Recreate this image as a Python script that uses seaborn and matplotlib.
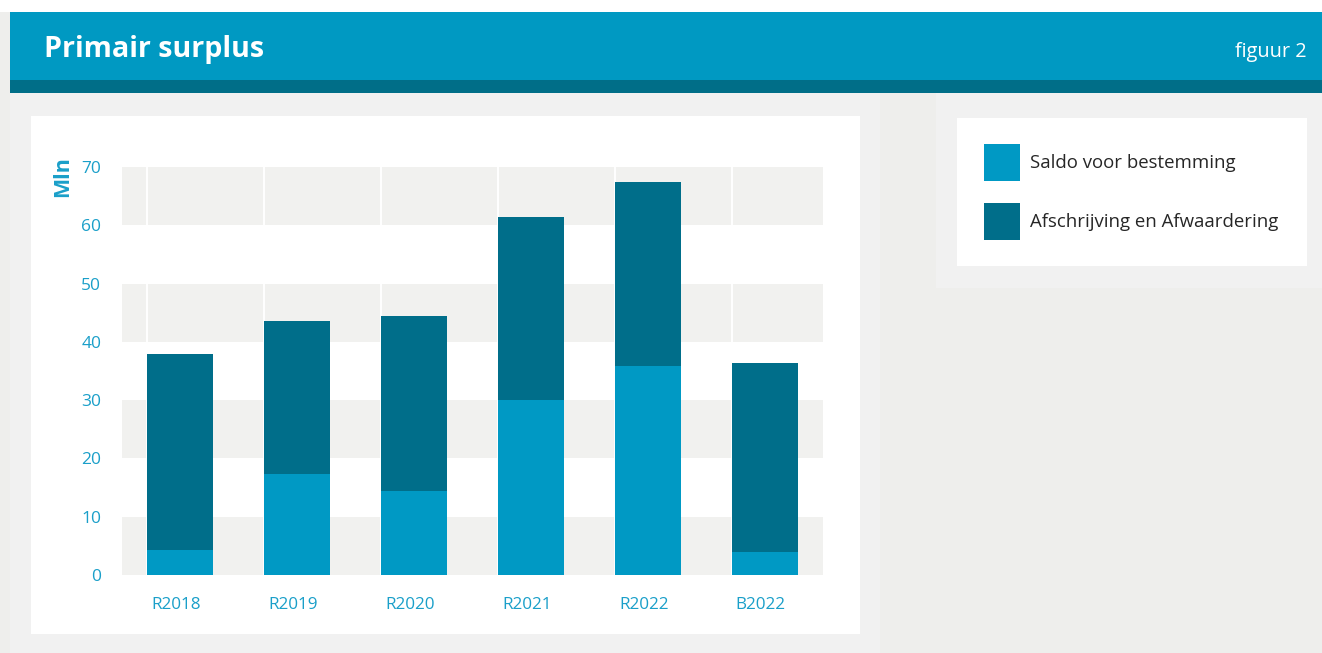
import pandas as pd
import seaborn as sns
import matplotlib.pyplot as plt
from matplotlib.patches import Rectangle, Patch
from matplotlib.transforms import ScaledTranslation

# data (Mln)
jaren = ['R2018', 'R2019', 'R2020', 'R2021', 'R2022', 'B2022']
saldo = [4.3, 17.3, 14.4, 30.0, 35.8, 3.9]
afschrijving = [33.6, 26.3, 30.0, 31.4, 31.6, 32.5]

licht = '#0099c4'
donker = '#006e8a'
band = '#f1f1ef'
tekst = '#1a9fc9'

df = pd.DataFrame({'jaar': jaren, 'saldo': saldo, 'afschrijving': afschrijving})
df['totaal'] = df['saldo'] + df['afschrijving']

sns.set_style('white')
plt.rcParams['font.family'] = ['Open Sans', 'DejaVu Sans']

W, H = 1322, 653
fig = plt.figure(figsize=(W / 100, H / 100), dpi=100, facecolor='#eeeeec')

def box(x0, y0, x1, y1, color):
    # pixel coords (top-left origin) -> figure fraction
    fig.patches.append(Rectangle((x0 / W, 1 - y1 / H), (x1 - x0) / W, (y1 - y0) / H,
                                 transform=fig.transFigure, color=color, zorder=-5, lw=0))

box(0, 0, W, 12, 'white')
box(10, 12, W, 80, '#0099c2')
box(10, 80, W, 93, '#006e88')
box(10, 93, 880, H, '#f1f1f1')
box(31, 116, 860, 634, 'white')
box(936, 93, W, 288, '#f1f1f1')
box(957, 118, 1307, 266, 'white')

fig.text(44 / W, 1 - 49 / H, 'Primair surplus', color='white', fontsize=20.6,
         fontweight='bold', va='center', ha='left')
fig.text(1307 / W, 1 - 52 / H, 'figuur 2', color='white', fontsize=14.3,
         va='center', ha='right')

ax = fig.add_axes([122 / W, (H - 575) / H, (823 - 122) / W, (575 - 167) / H])
ax.set_zorder(2)
ax.set_facecolor('white')

# alternating bands
for lo in range(0, 70, 20):
    ax.axhspan(lo, lo + 10, color=band, zorder=0, lw=0)

breedte = 0.565
for i in range(len(jaren)):
    ax.axvline(i - breedte / 2, color='white', lw=1.4, zorder=0.5)

sns.barplot(data=df, x='jaar', y='totaal', color=donker, width=breedte,
            saturation=1, linewidth=0, ax=ax, zorder=2)
sns.barplot(data=df, x='jaar', y='saldo', color=licht, width=breedte,
            saturation=1, linewidth=0, ax=ax, zorder=3)

ax.set_xlim(-0.5, 5.5)
ax.set_ylim(0, 70)
ax.set_yticks(range(0, 71, 10))
ax.set_xlabel('')
ax.set_ylabel('')
ax.tick_params(axis='y', length=0, pad=15, labelsize=12.5, labelcolor=tekst)
ax.tick_params(axis='x', length=0, pad=16, labelsize=12.3, labelcolor=tekst)
verschuif = ScaledTranslation(-4 / 100, 0, fig.dpi_scale_trans)
for lab in ax.get_xticklabels():
    lab.set_transform(lab.get_transform() + verschuif)
for s in ax.spines.values():
    s.set_visible(False)

fig.text(63 / W, 1 - 177 / H, 'Mln', rotation=90, color=tekst, fontsize=15.5,
         fontweight='bold', va='center', ha='center')

handles = [Patch(color=licht, lw=0), Patch(color=donker, lw=0)]
labels = ['Saldo voor bestemming', 'Afschrijving en Afwaardering']
leg = fig.legend(handles, labels, loc='upper left',
                 bbox_to_anchor=(984 / W, 1 - 144 / H), frameon=False,
                 fontsize=13.4, handlelength=1.95, handleheight=2.7,
                 labelspacing=1.15, handletextpad=0.5, borderaxespad=0,
                 borderpad=0)
leg.set_zorder(5)

fig.savefig('out.png', dpi=100, facecolor=fig.get_facecolor())
